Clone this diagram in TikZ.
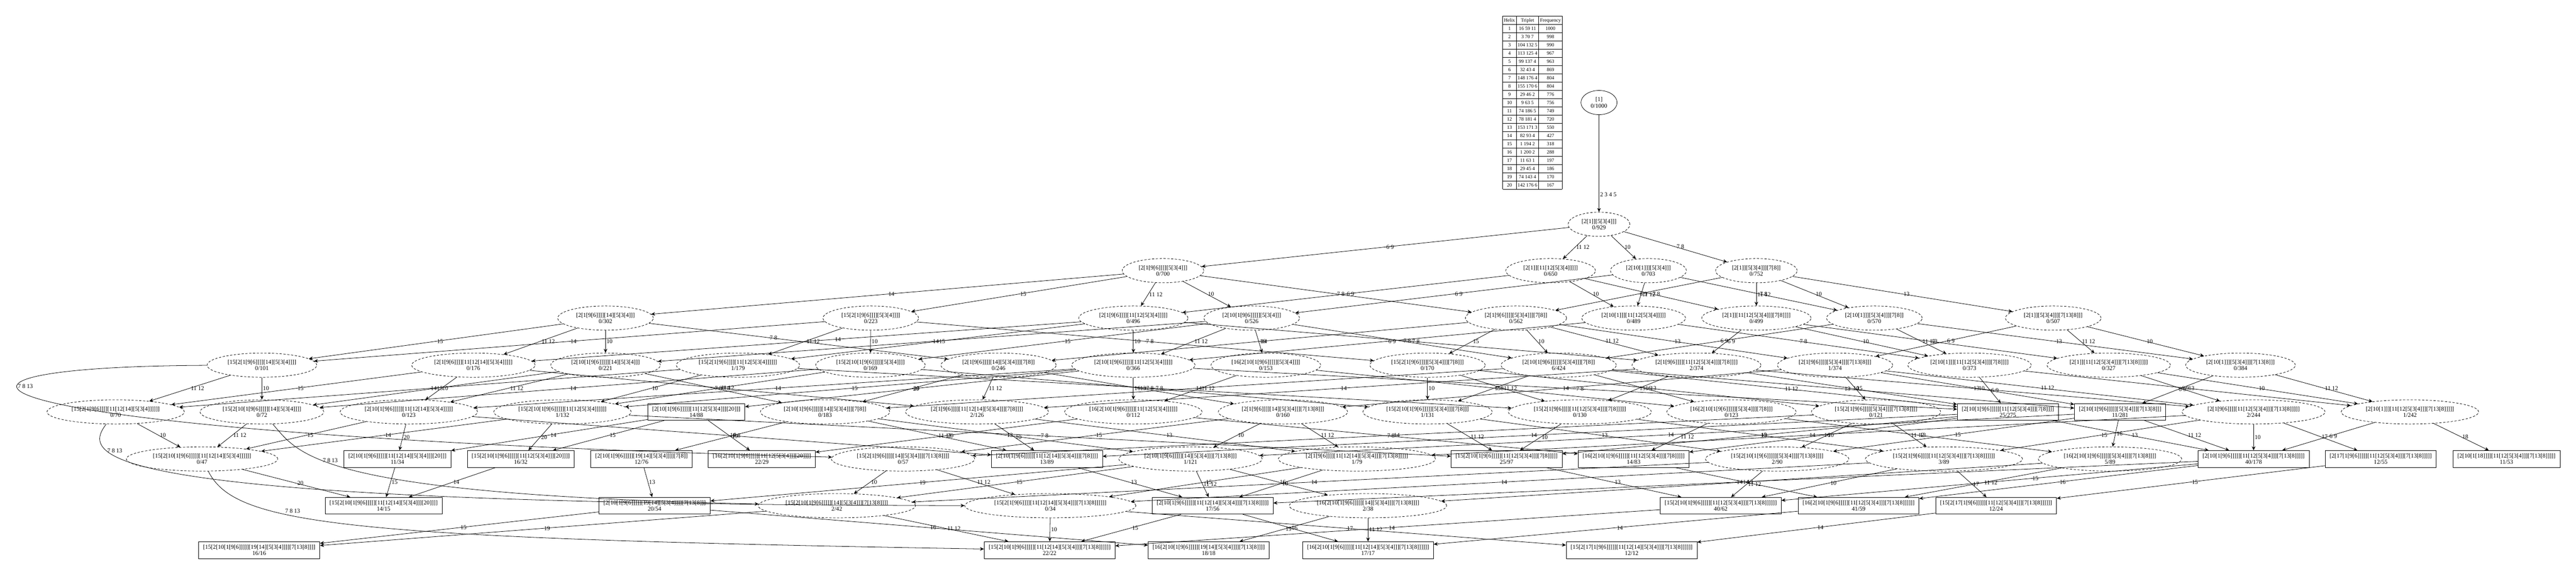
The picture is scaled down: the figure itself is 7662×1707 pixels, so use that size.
\documentclass[tikz,border=0pt]{standalone}
\usepackage{fontspec}
\setmainfont{Liberation Serif}
\usetikzlibrary{arrows.meta,shapes.geometric}

\begin{document}
\begin{tikzpicture}[x=0.75pt,y=0.75pt,yscale=-1,xscale=1,
    struct/.style={ellipse,draw,line width=0.9pt,dash pattern=on 5pt off 3.5pt,align=center,inner xsep=10pt,inner ysep=3pt,minimum height=54pt,font=\fontsize{13.3}{14}\selectfont},
    fin/.style={rectangle,draw,line width=0.9pt,align=center,inner xsep=10pt,inner ysep=3pt,minimum height=37.5pt,font=\fontsize{13.3}{14}\selectfont},
    root/.style={ellipse,draw,line width=0.9pt,align=center,inner xsep=10pt,inner ysep=3pt,minimum height=54pt,font=\fontsize{13.3}{14}\selectfont},
    conn/.style={line width=0.9pt,-{Stealth[length=9pt,width=8pt,inset=3pt]}},
    elab/.style={pos=0.5,anchor=west,inner sep=2pt,font=\fontsize{13.3}{14}\selectfont}]
    %set diagram area: 7662 x 1707
    \useasboundingbox (0,0) rectangle (7662,1707);
    % Helix table
    \node [inner sep=0pt] (helices) at (4558,305) {\fontsize{11}{13.5}\selectfont\setlength{\tabcolsep}{3pt}\renewcommand{\arraystretch}{1.333}%
    \begin{tabular}{|c|c|c|}\hline
    Helix & Triplet & Frequency\\\hline
    1 & 16 59 11 & 1000\\\hline
    2 & 3 70 7 & 998\\\hline
    3 & 104 132 5 & 990\\\hline
    4 & 113 125 4 & 967\\\hline
    5 & 99 137 4 & 963\\\hline
    6 & 32 43 4 & 869\\\hline
    7 & 148 176 4 & 804\\\hline
    8 & 155 170 6 & 804\\\hline
    9 & 29 46 2 & 776\\\hline
    10 & 9 63 5 & 756\\\hline
    11 & 74 186 5 & 749\\\hline
    12 & 78 181 4 & 720\\\hline
    13 & 153 171 3 & 550\\\hline
    14 & 82 93 4 & 427\\\hline
    15 & 1 194 2 & 318\\\hline
    16 & 1 200 2 & 288\\\hline
    17 & 11 63 1 & 197\\\hline
    18 & 29 45 4 & 186\\\hline
    19 & 74 143 4 & 170\\\hline
    20 & 142 176 6 & 167\\\hline
    \end{tabular}};
    % rank 0 and 1
    \node [root] (start) at (4756,305) {[1]\\0/1000};
    \node [struct] (n0) at (4756,667) {[2[1]][5[3[4]]]\\0/929};
    % rank 2
    \node [struct] (a) at (3459,805) {[2[1[9[6]]]][5[3[4]]]\\0/700};
    \node [struct] (c) at (4612,805) {[2[1]][11[12[5[3[4]]]]]\\0/650};
    \node [struct] (b) at (4903,805) {[2[10[1]]][5[3[4]]]\\0/703};
    \node [struct] (d) at (5224,805) {[2[1]][5[3[4]]][7[8]]\\0/752};
    % rank 3
    \node [struct] (af) at (1801,946) {[2[1[9[6]]]][14][5[3[4]]]\\0/302};
    \node [struct] (ag) at (2590,946) {[15[2[1[9[6]]]][5[3[4]]]]\\0/223};
    \node [struct] (ac) at (3371,946) {[2[1[9[6]]]][11[12[5[3[4]]]]]\\0/496};
    \node [struct] (ab) at (3723,946) {[2[10[1[9[6]]]]][5[3[4]]]\\0/526};
    \node [struct] (ad) at (4509,946) {[2[1[9[6]]]][5[3[4]]][7[8]]\\0/562};
    \node [struct] (bc) at (4859,946) {[2[10[1]]][11[12[5[3[4]]]]]\\0/489};
    \node [struct] (cd) at (5224,946) {[2[1]][11[12[5[3[4]]][7[8]]]]\\0/499};
    \node [struct] (bd) at (5575,946) {[2[10[1]]][5[3[4]]][7[8]]\\0/570};
    \node [struct] (de) at (6107,946) {[2[1]][5[3[4]]][7[13[8]]]\\0/507};
    % rank 4
    \node [struct] (afg) at (779,1086) {[15[2[1[9[6]]]][14][5[3[4]]]]\\0/101};
    \node [struct] (acf) at (1408,1086) {[2[1[9[6]]]][11[12[14][5[3[4]]]]]\\0/176};
    \node [struct] (abf) at (1801,1086) {[2[10[1[9[6]]]]][14][5[3[4]]]\\0/221};
    \node [struct] (acg) at (2195,1086) {[15[2[1[9[6]]]][11[12[5[3[4]]]]]]\\1/179};
    \node [struct] (abg) at (2589,1086) {[15[2[10[1[9[6]]]]][5[3[4]]]]\\0/169};
    \node [struct] (adf) at (2970,1086) {[2[1[9[6]]]][14][5[3[4]]][7[8]]\\0/246};
    \node [struct] (abc) at (3371,1086) {[2[10[1[9[6]]]]][11[12[5[3[4]]]]]\\0/366};
    \node [struct] (abh) at (3765,1086) {[16[2[10[1[9[6]]]]][5[3[4]]]]\\0/153};
    \node [struct] (adg) at (4246,1086) {[15[2[1[9[6]]]][5[3[4]]][7[8]]]\\0/170};
    \node [struct] (abd) at (4636,1086) {[2[10[1[9[6]]]]][5[3[4]]][7[8]]\\6/424};
    \node [struct] (acd) at (5046,1086) {[2[1[9[6]]]][11[12[5[3[4]]][7[8]]]]\\2/374};
    \node [struct] (ade) at (5458,1086) {[2[1[9[6]]]][5[3[4]]][7[13[8]]]\\1/374};
    \node [struct] (bcd) at (5858,1086) {[2[10[1]]][11[12[5[3[4]]][7[8]]]]\\0/373};
    \node [struct] (cde) at (6272,1086) {[2[1]][11[12[5[3[4]]][7[13[8]]]]]\\0/327};
    \node [struct] (bde) at (6664,1086) {[2[10[1]]][5[3[4]]][7[13[8]]]\\0/384};
    % rank 5
    \node [struct] (acfg) at (344,1225) {[15[2[1[9[6]]]][11[12[14][5[3[4]]]]]]\\0/70};
    \node [struct] (abfg) at (779,1225) {[15[2[10[1[9[6]]]]][14][5[3[4]]]]\\0/72};
    \node [struct] (abcf) at (1216,1225) {[2[10[1[9[6]]]]][11[12[14][5[3[4]]]]]\\0/123};
    \node [struct] (abcg) at (1673,1225) {[15[2[10[1[9[6]]]]][11[12[5[3[4]]]]]]\\1/132};
    \node [fin] (abcl) at (2071,1225) {[2[10[1[9[6]]]]][11[12[5[3[4]]][20]]]\\14/88};
    \node [struct] (abdf) at (2454,1225) {[2[10[1[9[6]]]]][14][5[3[4]]][7[8]]\\0/183};
    \node [struct] (acdf) at (2906,1225) {[2[1[9[6]]]][11[12[14][5[3[4]]][7[8]]]]\\2/126};
    \node [struct] (abch) at (3371,1225) {[16[2[10[1[9[6]]]]][11[12[5[3[4]]]]]]\\0/112};
    \node [struct] (adef) at (3816,1225) {[2[1[9[6]]]][14][5[3[4]]][7[13[8]]]\\0/160};
    \node [struct] (abdg) at (4246,1225) {[15[2[10[1[9[6]]]]][5[3[4]]][7[8]]]\\1/131};
    \node [struct] (acdg) at (4699,1225) {[15[2[1[9[6]]]][11[12[5[3[4]]][7[8]]]]]\\0/130};
    \node [struct] (abdh) at (5150,1225) {[16[2[10[1[9[6]]]]][5[3[4]]][7[8]]]\\0/123};
    \node [struct] (adeg) at (5580,1225) {[15[2[1[9[6]]]][5[3[4]]][7[13[8]]]]\\0/121};
    \node [fin] (abcd) at (5972,1225) {[2[10[1[9[6]]]]][11[12[5[3[4]]][7[8]]]]\\25/275};
    \node [fin] (abde) at (6306,1225) {[2[10[1[9[6]]]]][5[3[4]]][7[13[8]]]\\11/281};
    \node [struct] (acde) at (6703,1225) {[2[1[9[6]]]][11[12[5[3[4]]][7[13[8]]]]]\\2/244};
    \node [struct] (bcde) at (7168,1225) {[2[10[1]]][11[12[5[3[4]]][7[13[8]]]]]\\1/242};
    % rank 6
    \node [struct] (abcfg) at (601,1365) {[15[2[10[1[9[6]]]]][11[12[14][5[3[4]]]]]]\\0/47};
    \node [fin] (abcfl) at (1182,1365) {[2[10[1[9[6]]]]][11[12[14][5[3[4]]][20]]]\\11/34};
    \node [fin] (abcgl) at (1549,1365) {[15[2[10[1[9[6]]]]][11[12[5[3[4]]][20]]]]\\16/32};
    \node [fin] (abdfk) at (1908,1365) {[2[10[1[9[6]]]]][19[14][5[3[4]]]][7[8]]\\12/76};
    \node [fin] (abchl) at (2266,1365) {[16[2[10[1[9[6]]]]][11[12[5[3[4]]][20]]]]\\22/29};
    \node [struct] (adefg) at (2686,1365) {[15[2[1[9[6]]]][14][5[3[4]]][7[13[8]]]]\\0/57};
    \node [fin] (abcdf) at (3114,1365) {[2[10[1[9[6]]]]][11[12[14][5[3[4]]][7[8]]]]\\13/89};
    \node [struct] (abdef) at (3541,1365) {[2[10[1[9[6]]]]][14][5[3[4]]][7[13[8]]]\\1/121};
    \node [struct] (acdef) at (4036,1365) {[2[1[9[6]]]][11[12[14][5[3[4]]][7[13[8]]]]]\\1/79};
    \node [fin] (abcdg) at (4481,1365) {[15[2[10[1[9[6]]]]][11[12[5[3[4]]][7[8]]]]]\\25/97};
    \node [fin] (abcdh) at (4859,1365) {[16[2[10[1[9[6]]]]][11[12[5[3[4]]][7[8]]]]]\\14/83};
    \node [struct] (abdeg) at (5286,1365) {[15[2[10[1[9[6]]]]][5[3[4]]][7[13[8]]]]\\2/90};
    \node [struct] (acdeg) at (5782,1365) {[15[2[1[9[6]]]][11[12[5[3[4]]][7[13[8]]]]]]\\3/89};
    \node [struct] (abdeh) at (6276,1365) {[16[2[10[1[9[6]]]]][5[3[4]]][7[13[8]]]]\\5/89};
    \node [fin] (abcde) at (6703,1365) {[2[10[1[9[6]]]]][11[12[5[3[4]]][7[13[8]]]]]\\40/178};
    \node [fin] (acdei) at (7081,1365) {[2[17[1[9[6]]]]][11[12[5[3[4]]][7[13[8]]]]]\\12/55};
    \node [fin] (bcdej) at (7455,1365) {[2[10[1[18]]]][11[12[5[3[4]]][7[13[8]]]]]\\11/53};
    % rank 7
    \node [fin] (abcfgl) at (1141,1504) {[15[2[10[1[9[6]]]]][11[12[14][5[3[4]]][20]]]]\\14/15};
    \node [fin] (abdefk) at (1947,1504) {[2[10[1[9[6]]]]][19[14][5[3[4]]]][7[13[8]]]\\20/54};
    \node [struct] (abdefg) at (2489,1504) {[15[2[10[1[9[6]]]]][14][5[3[4]]][7[13[8]]]]\\2/42};
    \node [struct] (acdefg) at (3124,1504) {[15[2[1[9[6]]]][11[12[14][5[3[4]]][7[13[8]]]]]]\\0/34};
    \node [fin] (abcdef) at (3607,1504) {[2[10[1[9[6]]]]][11[12[14][5[3[4]]][7[13[8]]]]]\\17/56};
    \node [struct] (abdefh) at (4069,1504) {[16[2[10[1[9[6]]]]][14][5[3[4]]][7[13[8]]]]\\2/38};
    \node [fin] (abcdeg) at (5118,1504) {[15[2[10[1[9[6]]]]][11[12[5[3[4]]][7[13[8]]]]]]\\40/62};
    \node [fin] (abcdeh) at (5528,1504) {[16[2[10[1[9[6]]]]][11[12[5[3[4]]][7[13[8]]]]]]\\41/59};
    \node [fin] (acdegi) at (5937,1504) {[15[2[17[1[9[6]]]]][11[12[5[3[4]]][7[13[8]]]]]]\\12/24};
    % rank 8
    \node [fin] (abdefgk) at (771,1636) {[15[2[10[1[9[6]]]]][19[14][5[3[4]]]][7[13[8]]]]\\16/16};
    \node [fin] (abcdefg) at (3122,1636) {[15[2[10[1[9[6]]]]][11[12[14][5[3[4]]][7[13[8]]]]]]\\22/22};
    \node [fin] (abdefhk) at (3595,1636) {[16[2[10[1[9[6]]]]][19[14][5[3[4]]]][7[13[8]]]]\\18/18};
    \node [fin] (abcdefh) at (4069,1636) {[16[2[10[1[9[6]]]]][11[12[14][5[3[4]]][7[13[8]]]]]]\\17/17};
    \node [fin] (acdefgi) at (4853,1636) {[15[2[17[1[9[6]]]]][11[12[14][5[3[4]]][7[13[8]]]]]]\\12/12};

    % edges from rank 0 and 1
    \draw [conn] (start) -- node [elab,pos=0.82] {2 3 4 5} (n0);
    \draw [conn] (n0) -- node [elab] {6 9} (a);
    \draw [conn] (n0) -- node [elab] {11 12} (c);
    \draw [conn] (n0) -- node [elab] {10} (b);
    \draw [conn] (n0) -- node [elab] {7 8} (d);
    % edges from rank 2
    \draw [conn] (a) -- node [elab] {14} (af);
    \draw [conn] (a) -- node [elab] {15} (ag);
    \draw [conn] (a) -- node [elab] {11 12} (ac);
    \draw [conn] (a) -- node [elab] {10} (ab);
    \draw [conn] (a) -- node [elab] {7 8} (ad);
    \draw [conn] (c) -- node [elab] {6 9} (ac);
    \draw [conn] (c) -- node [elab] {10} (bc);
    \draw [conn] (c) -- node [elab] {7 8} (cd);
    \draw [conn] (b) -- node [elab] {6 9} (ab);
    \draw [conn] (b) -- node [elab] {11 12} (bc);
    \draw [conn] (b) -- node [elab] {7 8} (bd);
    \draw [conn] (d) -- node [elab] {6 9} (ad);
    \draw [conn] (d) -- node [elab] {11 12} (cd);
    \draw [conn] (d) -- node [elab] {10} (bd);
    \draw [conn] (d) -- node [elab] {13} (de);
    % edges from rank 3
    \draw [conn] (af) -- node [elab] {15} (afg);
    \draw [conn] (af) -- node [elab] {11 12} (acf);
    \draw [conn] (af) -- node [elab] {10} (abf);
    \draw [conn] (af) -- node [elab,pos=0.4] {7 8} (adf);
    \draw [conn] (ag) -- node [elab] {14} (afg);
    \draw [conn] (ag) -- node [elab] {11 12} (acg);
    \draw [conn] (ag) -- node [elab] {10} (abg);
    \draw [conn] (ag) -- node [elab] {7 8} (adg);
    \draw [conn] (ac) -- node [elab,pos=0.45] {14} (acf);
    \draw [conn] (ac) -- node [elab] {15} (acg);
    \draw [conn] (ac) -- node [elab] {10} (abc);
    \draw [conn] (ac) -- node [elab] {7 8} (acd);
    \draw [conn] (ab) -- node [elab] {14} (abf);
    \draw [conn] (ab) -- node [elab] {15} (abg);
    \draw [conn] (ab) -- node [elab] {11 12} (abc);
    \draw [conn] (ab) -- node [elab] {16} (abh);
    \draw [conn] (ab) -- node [elab] {7 8} (abd);
    \draw [conn] (ad) -- node [elab] {14} (adf);
    \draw [conn] (ad) -- node [elab] {15} (adg);
    \draw [conn] (ad) -- node [elab] {10} (abd);
    \draw [conn] (ad) -- node [elab] {11 12} (acd);
    \draw [conn] (ad) -- node [elab] {13} (ade);
    \draw [conn] (bc) -- node [elab] {6 9} (abc);
    \draw [conn] (bc) -- node [elab] {7 8} (bcd);
    \draw [conn] (cd) -- node [elab] {6 9} (acd);
    \draw [conn] (cd) -- node [elab] {10} (bcd);
    \draw [conn] (cd) -- node [elab] {13} (cde);
    \draw [conn] (bd) -- node [elab] {6 9} (abd);
    \draw [conn] (bd) -- node [elab] {11 12} (bcd);
    \draw [conn] (bd) -- node [elab] {13} (bde);
    \draw [conn] (de) -- node [elab] {6 9} (ade);
    \draw [conn] (de) -- node [elab] {11 12} (cde);
    \draw [conn] (de) -- node [elab] {10} (bde);
    % edges from rank 4
    \draw [conn] (afg) -- node [elab] {11 12} (acfg);
    \draw [conn] (afg) -- node [elab] {10} (abfg);
    \draw [conn] (afg) .. controls (-400,1090) and (-200,1290) .. (adefg) node [elab,pos=0.35] {7 8 13};
    \draw [conn] (acf) -- node [elab] {15} (acfg);
    \draw [conn] (acf) -- node [elab] {10} (abcf);
    \draw [conn] (acf) -- node [elab] {7 8} (acdf);
    \draw [conn] (abf) -- node [elab] {15} (abfg);
    \draw [conn] (abf) -- node [elab] {11 12} (abcf);
    \draw [conn] (abf) -- node [elab] {7 8} (abdf);
    \draw [conn] (acg) -- node [elab] {14} (acfg);
    \draw [conn] (acg) -- node [elab] {10} (abcg);
    \draw [conn] (acg) -- node [elab] {7 8} (acdg);
    \draw [conn] (abg) -- node [elab] {14} (abfg);
    \draw [conn] (abg) -- node [elab] {11 12} (abcg);
    \draw [conn] (abg) -- node [elab] {7 8} (abdg);
    \draw [conn] (adf) -- node [elab] {10} (abdf);
    \draw [conn] (adf) -- node [elab] {11 12} (acdf);
    \draw [conn] (adf) -- node [elab] {13} (adef);
    \draw [conn] (abc) -- node [elab] {14} (abcf);
    \draw [conn] (abc) -- node [elab] {15} (abcg);
    \draw [conn] (abc) -- node [elab] {20} (abcl);
    \draw [conn] (abc) -- node [elab] {16} (abch);
    \draw [conn] (abc) -- node [elab] {7 8} (abcd);
    \draw [conn] (abh) -- node [elab] {11 12} (abch);
    \draw [conn] (abh) -- node [elab] {7 8} (abdh);
    \draw [conn] (adg) -- node [elab] {10} (abdg);
    \draw [conn] (adg) -- node [elab] {11 12} (acdg);
    \draw [conn] (adg) -- node [elab] {13} (adeg);
    \draw [conn] (abd) -- node [elab] {14} (abdf);
    \draw [conn] (abd) -- node [elab] {15} (abdg);
    \draw [conn] (abd) -- node [elab] {16} (abdh);
    \draw [conn] (abd) -- node [elab] {11 12} (abcd);
    \draw [conn] (abd) -- node [elab] {13} (abde);
    \draw [conn] (acd) -- node [elab] {14} (acdf);
    \draw [conn] (acd) -- node [elab] {15} (acdg);
    \draw [conn] (acd) -- node [elab] {10} (abcd);
    \draw [conn] (acd) -- node [elab] {13} (acde);
    \draw [conn] (ade) -- node [elab] {14} (adef);
    \draw [conn] (ade) -- node [elab] {15} (adeg);
    \draw [conn] (ade) -- node [elab] {10} (abde);
    \draw [conn] (ade) -- node [elab] {11 12} (acde);
    \draw [conn] (bcd) -- node [elab] {6 9} (abcd);
    \draw [conn] (bcd) -- node [elab] {13} (bcde);
    \draw [conn] (cde) -- node [elab] {6 9} (acde);
    \draw [conn] (cde) -- node [elab] {10} (bcde);
    \draw [conn] (bde) -- node [elab] {6 9} (abde);
    \draw [conn] (bde) -- node [elab] {11 12} (bcde);
    % edges from rank 5
    \draw [conn] (acfg) -- node [elab] {10} (abcfg);
    \draw [conn] (acfg) .. controls (240,1360) and (260,1500) .. (acdefg) node [elab,pos=0.25] {7 8 13};
    \draw [conn] (abfg) -- node [elab] {11 12} (abcfg);
    \draw [conn] (abfg) .. controls (890,1350) and (930,1470) .. (abdefg) node [elab,pos=0.38] {7 8 13};
    \draw [conn] (abcf) -- node [elab] {15} (abcfg);
    \draw [conn] (abcf) -- node [elab] {20} (abcfl);
    \draw [conn] (abcf) -- node [elab] {7 8} (abcdf);
    \draw [conn] (abcg) -- node [elab] {14} (abcfg);
    \draw [conn] (abcg) -- node [elab] {20} (abcgl);
    \draw [conn] (abcg) -- node [elab] {7 8} (abcdg);
    \draw [conn] (abcl) -- node [elab] {14} (abcfl);
    \draw [conn] (abcl) -- node [elab] {15} (abcgl);
    \draw [conn] (abcl) -- node [elab] {16} (abchl);
    \draw [conn] (abdf) -- node [elab] {19} (abdfk);
    \draw [conn] (abdf) -- node [elab] {11 12} (abcdf);
    \draw [conn] (abdf) -- node [elab] {13} (abdef);
    \draw [conn] (acdf) -- node [elab] {10} (abcdf);
    \draw [conn] (acdf) -- node [elab] {13} (acdef);
    \draw [conn] (abch) -- node [elab] {20} (abchl);
    \draw [conn] (abch) -- node [elab] {7 8} (abcdh);
    \draw [conn] (adef) -- node [elab] {15} (adefg);
    \draw [conn] (adef) -- node [elab] {10} (abdef);
    \draw [conn] (adef) -- node [elab] {11 12} (acdef);
    \draw [conn] (abdg) -- node [elab] {11 12} (abcdg);
    \draw [conn] (abdg) -- node [elab] {13} (abdeg);
    \draw [conn] (acdg) -- node [elab] {10} (abcdg);
    \draw [conn] (acdg) -- node [elab] {13} (acdeg);
    \draw [conn] (abdh) -- node [elab] {11 12} (abcdh);
    \draw [conn] (abdh) -- node [elab] {13} (abdeh);
    \draw [conn] (adeg) -- node [elab] {14} (adefg);
    \draw [conn] (adeg) -- node [elab] {10} (abdeg);
    \draw [conn] (adeg) -- node [elab] {11 12} (acdeg);
    \draw [conn] (abcd) -- node [elab] {14} (abcdf);
    \draw [conn] (abcd) -- node [elab] {15} (abcdg);
    \draw [conn] (abcd) -- node [elab] {16} (abcdh);
    \draw [conn] (abcd) -- node [elab] {13} (abcde);
    \draw [conn] (abde) -- node [elab] {14} (abdef);
    \draw [conn] (abde) -- node [elab] {15} (abdeg);
    \draw [conn] (abde) -- node [elab] {16} (abdeh);
    \draw [conn] (abde) -- node [elab] {11 12} (abcde);
    \draw [conn] (acde) -- node [elab] {14} (acdef);
    \draw [conn] (acde) -- node [elab] {15} (acdeg);
    \draw [conn] (acde) -- node [elab] {10} (abcde);
    \draw [conn] (acde) -- node [elab] {17} (acdei);
    \draw [conn] (bcde) -- node [elab] {6 9} (abcde);
    \draw [conn] (bcde) -- node [elab] {18} (bcdej);
    % edges from rank 6
    \draw [conn] (abcfg) -- node [elab] {20} (abcfgl);
    \draw [conn] (abcfg) .. controls (700,1560) and (1000,1600) .. (abcdefg) node [elab,anchor=south west,pos=0.35] {7 8 13};
    \draw [conn] (abcfl) -- node [elab] {15} (abcfgl);
    \draw [conn] (abcgl) -- node [elab] {14} (abcfgl);
    \draw [conn] (abdfk) -- node [elab] {13} (abdefk);
    \draw [conn] (adefg) -- node [elab] {10} (abdefg);
    \draw [conn] (adefg) -- node [elab] {11 12} (acdefg);
    \draw [conn] (abcdf) -- node [elab] {13} (abcdef);
    \draw [conn] (abdef) -- node [elab] {19} (abdefk);
    \draw [conn] (abdef) -- node [elab] {15} (abdefg);
    \draw [conn] (abdef) -- node [elab] {16} (abdefh);
    \draw [conn] (abdef) -- node [elab] {11 12} (abcdef);
    \draw [conn] (acdef) -- node [elab] {15} (acdefg);
    \draw [conn] (acdef) -- node [elab] {10} (abcdef);
    \draw [conn] (abcdg) -- node [elab] {13} (abcdeg);
    \draw [conn] (abcdh) -- node [elab] {13} (abcdeh);
    \draw [conn] (abdeg) -- node [elab] {14} (abdefg);
    \draw [conn] (abdeg) -- node [elab] {11 12} (abcdeg);
    \draw [conn] (acdeg) -- node [elab] {14} (acdefg);
    \draw [conn] (acdeg) -- node [elab] {10} (abcdeg);
    \draw [conn] (acdeg) -- node [elab] {17} (acdegi);
    \draw [conn] (abdeh) -- node [elab] {14} (abdefh);
    \draw [conn] (abdeh) -- node [elab] {11 12} (abcdeh);
    \draw [conn] (abcde) -- node [elab] {14} (abcdef);
    \draw [conn] (abcde) -- node [elab,pos=0.4] {15} (abcdeg);
    \draw [conn] (abcde) -- node [elab] {16} (abcdeh);
    \draw [conn] (acdei) -- node [elab] {15} (acdegi);
    % edges from rank 7
    \draw [conn] (abdefk) -- node [elab] {15} (abdefgk);
    \draw [conn] (abdefk) -- node [elab] {16} (abdefhk);
    \draw [conn] (abdefg) -- node [elab] {19} (abdefgk);
    \draw [conn] (abdefg) -- node [elab] {11 12} (abcdefg);
    \draw [conn] (acdefg) -- node [elab] {10} (abcdefg);
    \draw [conn] (acdefg) -- node [elab] {17} (acdefgi);
    \draw [conn] (abcdef) -- node [elab] {15} (abcdefg);
    \draw [conn] (abcdef) -- node [elab] {16} (abcdefh);
    \draw [conn] (abdefh) -- node [elab] {19} (abdefhk);
    \draw [conn] (abdefh) -- node [elab] {11 12} (abcdefh);
    \draw [conn] (abcdeg) -- node [elab] {14} (abcdefg);
    \draw [conn] (abcdeh) -- node [elab] {14} (abcdefh);
    \draw [conn] (acdegi) -- node [elab] {14} (acdefgi);
\end{tikzpicture}
\end{document}
